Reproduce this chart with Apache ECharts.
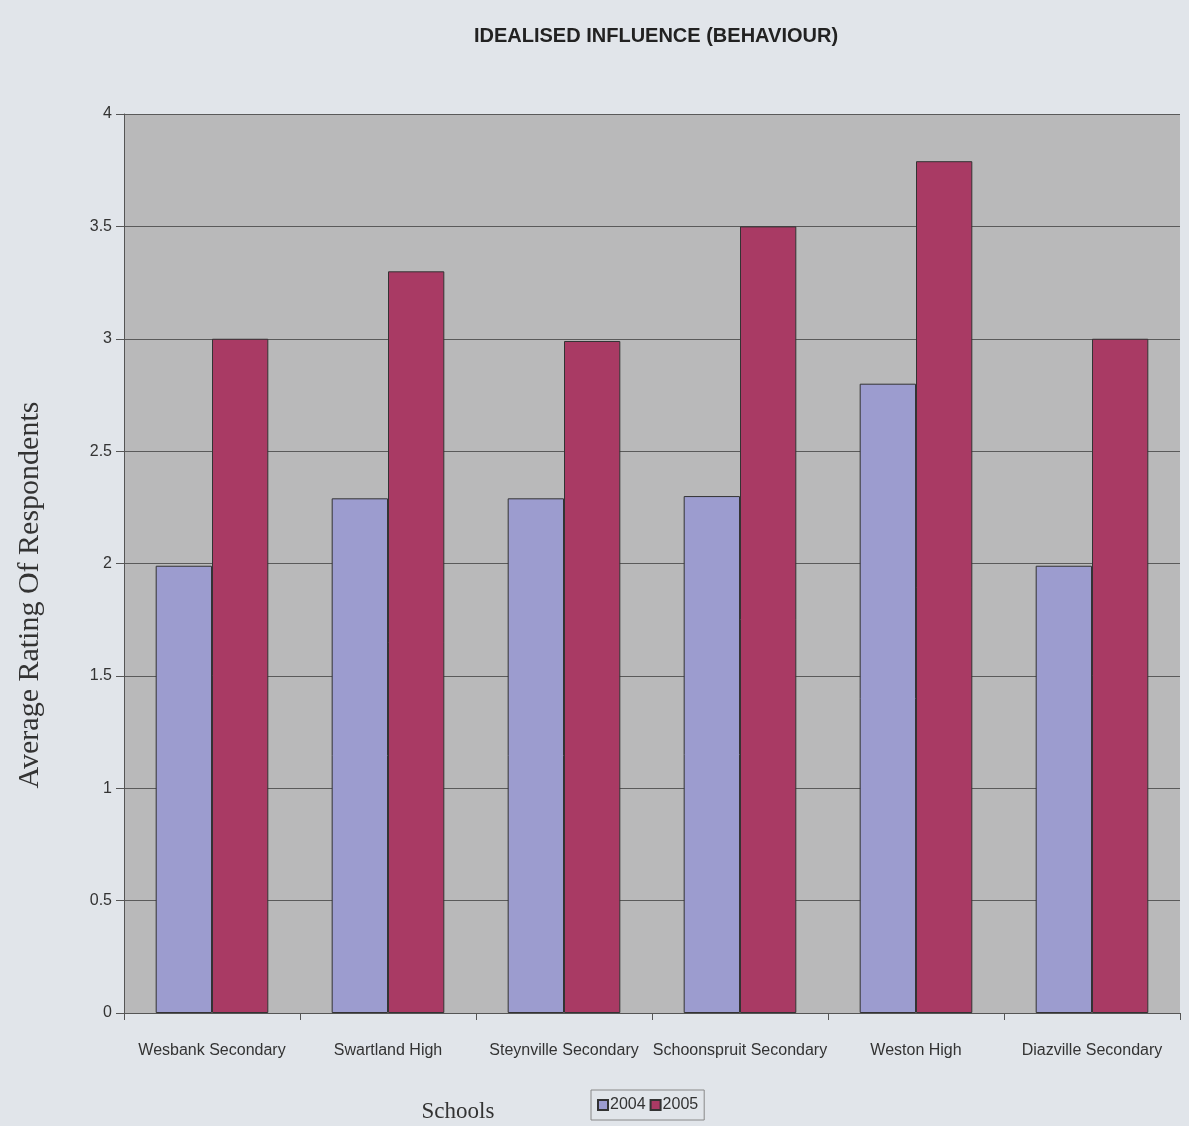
<!DOCTYPE html>
<html>
<head>
<meta charset="utf-8">
<script src="https://cdn.jsdelivr.net/npm/echarts@6/dist/echarts.min.js"></script>
<style>
html,body{margin:0;padding:0;background:#e1e5ea;}
#chart{width:1189px;height:1126px;}
</style>
</head>
<body>
<div id="chart"></div>
<script>
const categories = ['Wesbank Secondary','Swartland High','Steynville Secondary','Schoonspruit Secondary','Weston High','Diazville Secondary'];
const values2004 = [1.99, 2.29, 2.29, 2.30, 2.80, 1.99];
const values2005 = [3.00, 3.30, 2.99, 3.50, 3.79, 3.00];
const yTicks = [0, 0.5, 1, 1.5, 2, 2.5, 3, 3.5, 4];

const chart = echarts.init(document.getElementById('chart'));
const narrow = '"Liberation Sans Narrow", "Arial Narrow", "Liberation Sans", sans-serif';
const serif = '"Liberation Serif", "Times New Roman", serif';
chart.setOption({
  backgroundColor: '#e1e5ea',
  animation: false,
  title: [{
    text: 'IDEALISED INFLUENCE (BEHAVIOUR)',
    left: 651, top: 21, textAlign: 'center',
    textStyle: {fontFamily: narrow, fontWeight: 'bold', fontSize: 20, color: '#222'}
  }, {
    text: 'Schools',
    left: 453, top: 1095, textAlign: 'center',
    textStyle: {fontFamily: serif, fontWeight: 'normal', fontSize: 23, color: '#333'}
  }],
  graphic: [{
    type: 'text', x: 30, y: 595, rotation: Math.PI / 2,
    style: {text: 'Average Rating Of Respondents', font: '30px "Liberation Serif", serif',
      fill: '#333', align: 'center', verticalAlign: 'middle'}
  }],
  legend: {
    left: 591, top: 1090,
    itemWidth: 10, itemHeight: 10, itemGap: 4,
    padding: [7, 6, 7, 6],
    borderColor: '#888', borderWidth: 1,
    textStyle: {fontFamily: narrow, fontSize: 16, color: '#333', padding: [0, 0, 0, -3]},
    data: [{name: '2004', icon: 'rect'}, {name: '2005', icon: 'rect'}]
  },
  grid: {left: 124, right: 9, top: 114, bottom: 113, show: true, backgroundColor: '#b9b9ba', borderWidth: 0},
  xAxis: {
    type: 'category', data: categories,
    axisLine: {lineStyle: {color: '#555', width: 1}},
    axisTick: {show: true, alignWithLabel: false, length: 7, lineStyle: {color: '#555'}},
    axisLabel: {fontFamily: narrow, fontSize: 16, color: '#333', margin: 30, interval: 0}
  },
  yAxis: {
    type: 'value', min: 0, max: 4, interval: 0.5,
    axisLine: {show: true, lineStyle: {color: '#555', width: 1}},
    axisTick: {show: true, length: 8, lineStyle: {color: '#555'}},
    axisLabel: {fontFamily: narrow, fontSize: 16, color: '#333', margin: 12,
      formatter: v => yTicks.includes(v) ? String(v) : ''},
    splitLine: {show: true, lineStyle: {color: '#5a5a5a', width: 1}}
  },
  series: [{
    name: '2004', type: 'bar', data: values2004,
    barGap: '0%', barCategoryGap: '36%',
    itemStyle: {color: '#9c9ccf', borderColor: '#333', borderWidth: 1}
  }, {
    name: '2005', type: 'bar', data: values2005,
    itemStyle: {color: '#a93a64', borderColor: '#333', borderWidth: 1}
  }]
});
</script>
</body>
</html>
